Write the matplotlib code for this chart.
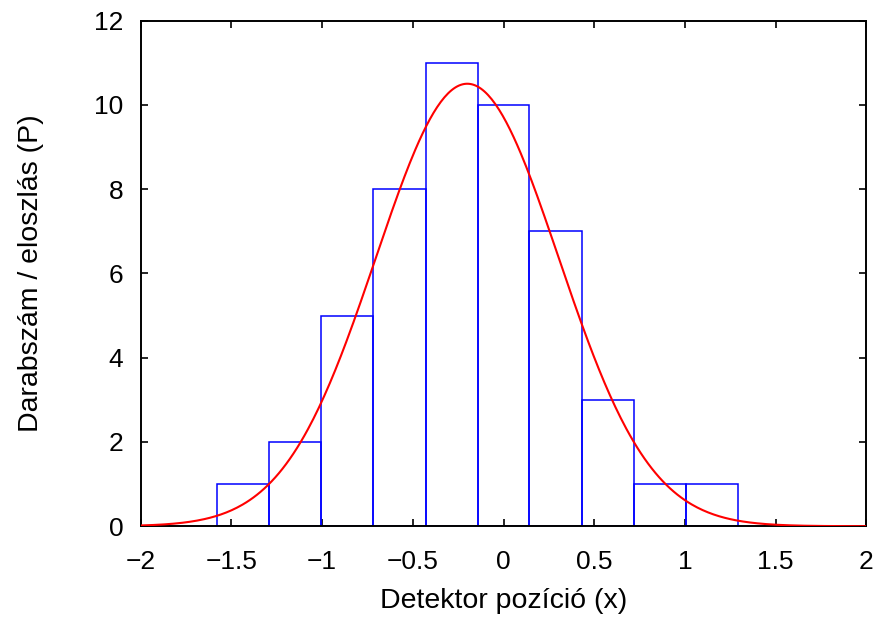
import matplotlib
matplotlib.use('Agg')
import numpy as np
import matplotlib.pyplot as plt

plt.rcParams['font.family'] = ['Liberation Sans', 'DejaVu Sans']

# ===== data =====
bin_edges = [-1.577, -1.291, -1.004, -0.717, -0.430, -0.143,
             0.143, 0.430, 0.717, 1.004, 1.291]
counts = [1, 2, 5, 8, 11, 10, 7, 3, 1, 1]

# Gaussian fit parameters
fit_amp = 10.5
fit_mu = -0.20
fit_sigma = 0.504

x_ticks = [-2, -1.5, -1, -0.5, 0, 0.5, 1, 1.5, 2]
x_ticklabels = ['\u22122', '\u22121.5', '\u22121', '\u22120.5', '0', '0.5', '1', '1.5', '2']
y_ticks = [0, 2, 4, 6, 8, 10, 12]

# ===== plot =====
fig = plt.figure(figsize=(8.96, 6.22), dpi=100)
ax = fig.add_axes([0.157, 0.154, 0.810, 0.813])

edges = np.array(bin_edges)
ax.bar(edges[:-1], counts, width=np.diff(edges), align='edge',
       fill=False, edgecolor='#0000ff', linewidth=1.1, zorder=2)

xs = np.linspace(-2, 2, 400)
ys = fit_amp * np.exp(-(xs - fit_mu) ** 2 / (2 * fit_sigma ** 2))
ax.plot(xs, ys, color='#ff0000', linewidth=1.5, zorder=3)

ax.set_xlim(-2, 2)
ax.set_ylim(0, 12)
ax.set_xticks(x_ticks)
ax.set_xticklabels(x_ticklabels)
ax.set_yticks(y_ticks)

ax.tick_params(direction='in', length=5, width=1.2, top=True, right=True,
               labelsize=19, color='black')
ax.tick_params(axis='x', pad=17)
ax.tick_params(axis='y', pad=12.5)
for sp in ax.spines.values():
    sp.set_linewidth(1.4)

ax.set_xlabel('Detektor pozíció (x)', fontsize=20.5, va='baseline')
ax.set_ylabel('Darabszám / eloszlás (P)', fontsize=20.5, va='baseline')
ax.xaxis.set_label_coords(0.5, -0.162)
ax.yaxis.set_label_coords(-0.141, 0.5)

fig.savefig('out.png', dpi=100, facecolor='white')
